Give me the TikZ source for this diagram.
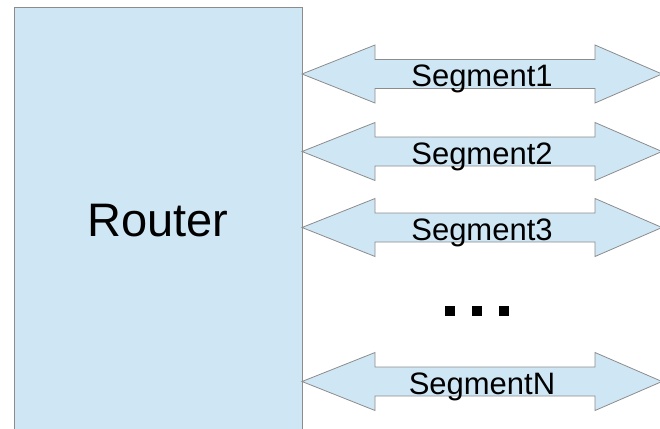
\documentclass[tikz,border=0pt]{standalone}
\usepackage{fontspec}
\setmainfont{Liberation Sans}
\usetikzlibrary{positioning, calc}

\definecolor{boxblue}{RGB}{207,231,245}
\definecolor{boxgray}{RGB}{140,140,140}

\begin{document}
\begin{tikzpicture}[
    x=1pt, y=-1pt,
    routerbox/.style={rectangle, draw=boxgray, fill=boxblue, line width=0.8pt, minimum width=288pt, minimum height=428pt, inner sep=0pt, font=\fontsize{47}{56}\selectfont},
    segarrow/.style={draw=boxgray, fill=boxblue, line width=0.8pt, line join=miter},
    seglabel/.style={anchor=base, inner sep=0pt, font=\fontsize{31}{37}\selectfont},
    dot/.style={fill=black, minimum size=10pt, inner sep=0pt}
]
    \useasboundingbox (0,0) rectangle (660,428);

    % Nodes
    \node [routerbox] (router) at (158,221) {Router};

    % Segment arrows
    \foreach \y/\name/\txt in {74/seg1/Segment1, 151.5/seg2/Segment2, 227.5/seg3/Segment3, 381.5/segN/SegmentN} {
        \draw [segarrow] (302,\y) -- (375,\y-29) -- (375,\y-14.5) -- (595,\y-14.5) -- (595,\y-29)
            -- (662,\y) -- (595,\y+29) -- (595,\y+14.5) -- (375,\y+14.5) -- (375,\y+29) -- cycle;
        \node [seglabel] (\name) at (482,\y+12.5) {\txt};
    }

    % Dots
    \node [dot] (dot1) at (450,311) {};
    \node [dot, right=17pt of dot1] (dot2) {};
    \node [dot, right=16pt of dot2] (dot3) {};

\end{tikzpicture}
\end{document}
